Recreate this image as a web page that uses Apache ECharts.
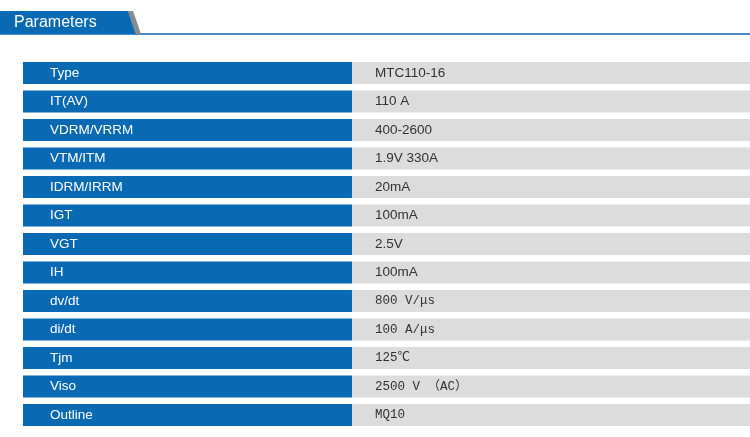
<!DOCTYPE html><html><head><meta charset="utf-8"><script src="https://cdn.jsdelivr.net/npm/echarts@6/dist/echarts.min.js"></script>
<style>html,body{margin:0;background:#fff}#c{width:750px;height:437px}</style></head><body><div id="c"></div><script>
const params=["Type","IT(AV)","VDRM/VRRM","VTM/ITM","IDRM/IRRM","IGT","VGT","IH","dv/dt","di/dt","Tjm","Viso","Outline"];
const values=["MTC110-16","110 A","400-2600","1.9V 330A","20mA","100mA","2.5V","100mA","800 V/μs","100 A/μs","125℃","2500 V （AC）","MQ10"];
const serifRows=[8,9,10,11,12];
const chart=echarts.init(document.getElementById('c'));
const BLUE='#0a69b3';
chart.setOption({
 animation:false,
 grid:{left:23,right:0,top:58.75,bottom:7.75},
 xAxis:{type:'value',min:0,max:1,show:false},
 yAxis:{type:'category',data:params,inverse:true,show:false},
 graphic:[
  {type:'line',shape:{x1:0,y1:34,x2:750,y2:34},style:{stroke:BLUE,lineWidth:1.5}},
  {type:'polygon',shape:{points:[[128,11],[133,11],[141,34],[136,34]]},style:{fill:'#8a8a8a'}},
  {type:'polygon',shape:{points:[[0,11],[128,11],[136,34],[0,34]]},style:{fill:BLUE}},
  {type:'text',x:14,y:22.5,style:{text:'Parameters',fill:'#fff',font:'16px "Liberation Sans", Arial',verticalAlign:'middle'}}
 ],
 series:[{type:'custom',data:params.map((p,i)=>[i]),encode:{y:0},
  renderItem:(pm,api)=>{
   const i=api.value(0);
   const c=api.coord([0,i]);const h=api.size([0,1])[1]*0.77;
   const split=352;
   return {type:'group',children:[
    {type:'rect',shape:{x:c[0],y:c[1]-h/2,width:split-c[0],height:h},style:{fill:BLUE}},
    {type:'rect',shape:{x:split,y:c[1]-h/2,width:750-split,height:h},style:{fill:'#dcdcdc'}},
    {type:'text',style:{x:50,y:c[1],text:params[i],fill:'#fff',font:'13.5px "Liberation Sans", Arial',verticalAlign:'middle'}},
    {type:'text',style:{x:375,y:c[1],text:values[i],fill:'#333',font:serifRows.includes(i)?'12.5px "Liberation Mono", "Noto Sans CJK SC", monospace':'13.5px "Liberation Sans", Arial',verticalAlign:'middle'}}
   ]};
  }}]
});
</script></body></html>
